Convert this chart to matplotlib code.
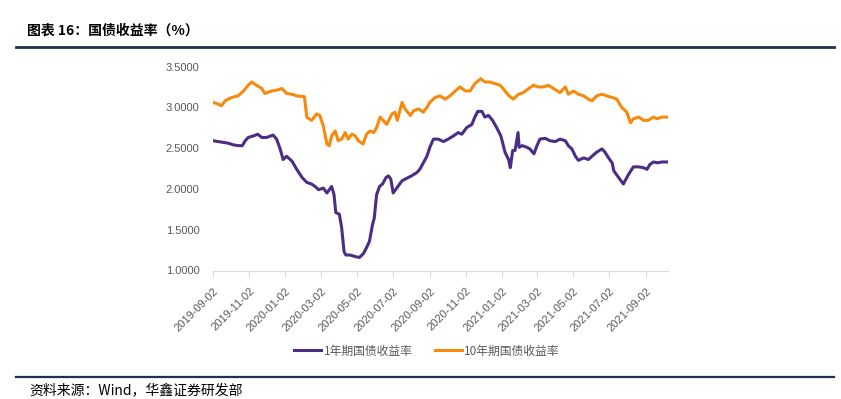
import pandas as pd
import matplotlib
matplotlib.use('Agg')
import matplotlib.pyplot as plt

plt.rcParams['font.family'] = ['Noto Sans CJK SC', 'DejaVu Sans']

# 天数（自 2019-09-02 起）与收益率，读自原图
start = '2019-09-02'
days_10y = [0, 8, 14, 20, 31, 42, 51, 59, 65, 73, 82, 87, 99, 107, 116, 124, 133, 141, 154, 158,
            166, 175, 180, 186, 192, 196, 200, 206, 211, 217, 223, 228, 234, 240, 245, 253, 259, 265,
            271, 276, 282, 287, 293, 302, 307, 311, 319, 324, 333, 339, 347, 355, 361, 366, 375, 383,
            392, 400, 409, 417, 426, 434, 442, 452, 459, 468, 476, 485, 493, 500, 507, 516, 524, 533,
            541, 549, 558, 566, 575, 586, 595, 600, 609, 617, 626, 634, 640, 648, 657, 665, 674, 682,
            690, 699, 705, 710, 719, 727, 735, 744, 750, 758, 769]
yield_10y = [3.06, 3.04, 3.02, 3.08, 3.12, 3.14, 3.20, 3.27, 3.31, 3.27, 3.23, 3.17, 3.20, 3.21, 3.23,
             3.17, 3.16, 3.14, 3.13, 2.88, 2.84, 2.92, 2.90, 2.77, 2.55, 2.53, 2.65, 2.71, 2.59, 2.61,
             2.69, 2.61, 2.67, 2.65, 2.59, 2.55, 2.67, 2.71, 2.69, 2.75, 2.88, 2.84, 2.79, 2.92, 2.94,
             2.84, 3.06, 2.98, 2.90, 2.96, 2.98, 2.94, 3.00, 3.06, 3.12, 3.14, 3.10, 3.14, 3.20, 3.25,
             3.20, 3.20, 3.29, 3.35, 3.31, 3.31, 3.29, 3.27, 3.20, 3.14, 3.10, 3.16, 3.18, 3.23, 3.27,
             3.25, 3.25, 3.27, 3.23, 3.18, 3.25, 3.16, 3.20, 3.16, 3.14, 3.10, 3.08, 3.14, 3.16, 3.14,
             3.12, 3.10, 3.00, 2.94, 2.81, 2.86, 2.88, 2.84, 2.84, 2.88, 2.86, 2.88, 2.88]

days_1y = [0, 8, 17, 25, 34, 42, 49, 54, 59, 68, 75, 82, 90, 101, 107, 113, 118, 124, 133, 141, 150,
           158, 166, 172, 178, 186, 192, 200, 204, 207, 213, 217, 221, 224, 231, 240, 247, 254, 259,
           264, 269, 272, 276, 281, 286, 292, 296, 300, 304, 310, 319, 327, 335, 344, 349, 355, 361,
           366, 372, 380, 389, 397, 406, 414, 420, 428, 437, 442, 447, 454, 459, 465, 472, 479, 486,
           493, 499, 502, 506, 510, 515, 517, 522, 530, 535, 542, 547, 552, 561, 569, 578, 586, 595,
           600, 606, 612, 617, 626, 634, 640, 648, 657, 662, 668, 674, 677, 685, 693, 702, 710, 719,
           727, 733, 738, 744, 751, 758, 769]
yield_1y = [2.59, 2.58, 2.57, 2.56, 2.54, 2.53, 2.53, 2.59, 2.63, 2.65, 2.67, 2.63, 2.63, 2.66, 2.61,
            2.49, 2.36, 2.40, 2.34, 2.24, 2.14, 2.08, 2.06, 2.03, 1.99, 2.01, 1.95, 2.03, 1.93, 1.71,
            1.69, 1.52, 1.23, 1.19, 1.19, 1.17, 1.16, 1.21, 1.28, 1.36, 1.56, 1.64, 1.93, 2.03, 2.06,
            2.14, 2.16, 2.12, 1.95, 2.01, 2.10, 2.13, 2.16, 2.20, 2.24, 2.32, 2.40, 2.51, 2.61, 2.61,
            2.58, 2.61, 2.65, 2.69, 2.67, 2.75, 2.79, 2.88, 2.95, 2.95, 2.88, 2.90, 2.84, 2.75, 2.65,
            2.45, 2.36, 2.26, 2.47, 2.47, 2.69, 2.51, 2.53, 2.51, 2.49, 2.43, 2.53, 2.61, 2.62, 2.59,
            2.58, 2.61, 2.59, 2.53, 2.49, 2.40, 2.35, 2.38, 2.36, 2.40, 2.45, 2.49, 2.45, 2.38, 2.32,
            2.22, 2.14, 2.06, 2.18, 2.27, 2.27, 2.26, 2.24, 2.30, 2.33, 2.32, 2.33, 2.33]

y_ticks = [1.0, 1.5, 2.0, 2.5, 3.0, 3.5]
labels = ['1年期国债收益率', '10年期国债收益率']
title = '图表 16：国债收益率（%）'
source = '资料来源：Wind，华鑫证券研发部'

t0 = pd.Timestamp(start)
x_1y = t0 + pd.to_timedelta(days_1y, unit='D')
x_10y = t0 + pd.to_timedelta(days_10y, unit='D')
x_ticks = pd.date_range(start, '2021-09-02', freq=pd.DateOffset(months=2))

fig = plt.figure(figsize=(8.41, 3.99), dpi=100)
ax = fig.add_axes([213.3 / 841, 128.5 / 399, 455 / 841, 204 / 399])

l1, = ax.plot(x_1y, yield_1y, color='#4B2D86', lw=2.2)
l2, = ax.plot(x_10y, yield_10y, color='#F7890C', lw=2.2)

ax.set_xlim(x_1y[0], x_1y[-1])
ax.set_ylim(1.0, 3.5)
ax.set_yticks(y_ticks)
ax.set_yticklabels(['%.4f' % v for v in y_ticks], family='Liberation Sans', fontsize=8, color='#595959')
ax.set_xticks(x_ticks)
ax.set_xticklabels([d.strftime('%Y-%m-%d') for d in x_ticks], rotation=45, ha='right', va='top',
                   rotation_mode='anchor', family='Liberation Sans', fontsize=8, color='#595959')

for s in ['top', 'right', 'left']:
    ax.spines[s].set_visible(False)
ax.spines['bottom'].set_color('#D9D9D9')
ax.tick_params(axis='y', length=0, pad=10)
ax.tick_params(axis='x', length=4, color='#D9D9D9', pad=7)

fig.legend([l1, l2], labels, loc='center', bbox_to_anchor=(427 / 841, 1 - 351 / 399), ncol=2,
           frameon=False, fontsize=8.5, handlelength=2.3, handletextpad=0.2, columnspacing=1.9,
           labelcolor='#595959')

fig.text(27 / 841, 1 - 31 / 399, title, fontsize=10, fontweight='bold', va='center', ha='left')
fig.add_artist(plt.Line2D([16 / 841, 834 / 841], [1 - 47 / 399] * 2, color='#1F3050', lw=2))
fig.add_artist(plt.Line2D([16 / 841, 834 / 841], [1 - 376.5 / 399] * 2, color='#1F3050', lw=1.6))
fig.text(29 / 841, 1 - 390 / 399, source, fontsize=10, va='center', ha='left')

fig.savefig('out.png', dpi=100)
